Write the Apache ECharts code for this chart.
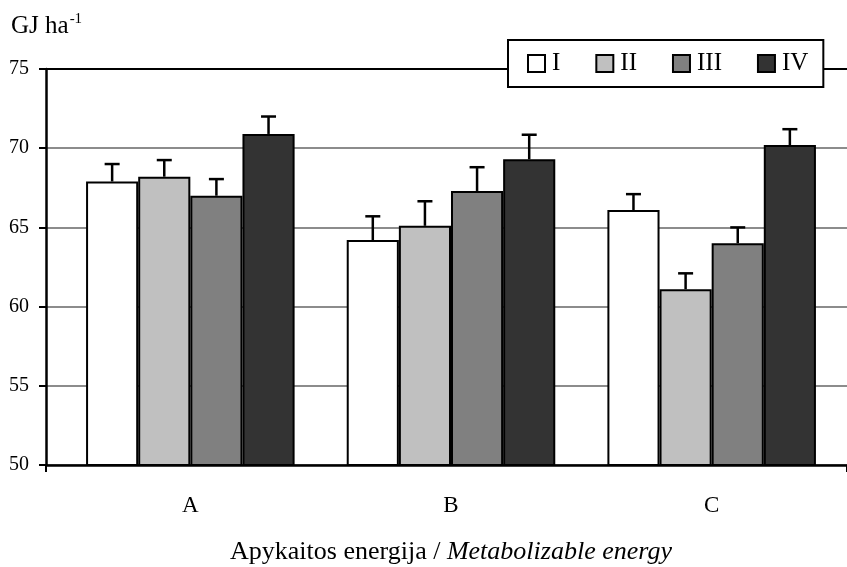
<!DOCTYPE html>
<html><head><meta charset="utf-8">
<script src="https://cdn.jsdelivr.net/npm/echarts@6/dist/echarts.min.js"></script>
<style>html,body{margin:0;padding:0;background:#fff}#c{width:847px;height:567px}</style>
</head><body><div id="c"></div>
<script>
const categories = ['A', 'B', 'C'];
const seriesNames = ['I', 'II', 'III', 'IV'];
const valuesI   = [67.9, 64.2, 66.1];
const valuesII  = [68.2, 65.1, 61.1];
const valuesIII = [67.0, 67.3, 64.0];
const valuesIV  = [70.9, 69.3, 70.2];
const errI   = [1.1, 1.5, 1.0];
const errII  = [1.05, 1.55, 1.0];
const errIII = [1.05, 1.5, 1.0];
const errIV  = [1.1, 1.55, 1.0];
const yTicks = [50, 55, 60, 65, 70, 75];

const allValues = [valuesI, valuesII, valuesIII, valuesIV];
const allErr = [errI, errII, errIII, errIV];
const colors = ['#ffffff', '#c0c0c0', '#808080', '#333333'];
const font = 'Liberation Serif';
const nSeries = seriesNames.length;
const catGapRatio = 0.2;

const chart = echarts.init(document.getElementById('c'));
const series = [];
allValues.forEach((vals, i) => {
  series.push({
    name: seriesNames[i], type: 'bar', xAxisIndex: 1, yAxisIndex: 1,
    data: vals, barGap: '0%', barCategoryGap: (catGapRatio * 100) + '%',
    itemStyle: { color: colors[i], borderColor: '#000', borderWidth: 2 },
    z: 3
  });
});
allValues.forEach((vals, i) => {
  series.push({
    type: 'custom', xAxisIndex: 1, yAxisIndex: 1, z: 4,
    data: vals.map((v, k) => [k, v, v + allErr[i][k]]),
    renderItem: function (params, api) {
      const band = api.size([1, 0])[0];
      const bw = band * (1 - catGapRatio) / nSeries;
      const off = (i - (nSeries - 1) / 2) * bw;
      const p0 = api.coord([api.value(0), api.value(1)]);
      const p1 = api.coord([api.value(0), api.value(2)]);
      const x = p0[0] + off;
      const cap = 7.5;
      const st = { stroke: '#000', lineWidth: 2.5 };
      return { type: 'group', children: [
        { type: 'line', shape: { x1: x, y1: p0[1], x2: x, y2: p1[1] }, style: st },
        { type: 'line', shape: { x1: x - cap, y1: p1[1], x2: x + cap, y2: p1[1] }, style: st }
      ]};
    }
  });
});
series.push({
  type: 'line', xAxisIndex: 0, yAxisIndex: 0, data: [], silent: true,
  markLine: { symbol: 'none', silent: true, label: { show: false },
    lineStyle: { color: '#000', width: 2, type: 'solid' },
    data: [{ yAxis: yTicks[yTicks.length - 1] }] }
});

chart.setOption({
  animation: false,
  backgroundColor: '#fff',
  grid: [
    { left: 46, right: 0, top: 69, bottom: 102, containLabel: false, outerBoundsMode: 'none' },
    { left: 60, right: 5, top: 69, bottom: 102, containLabel: false, outerBoundsMode: 'none' }
  ],
  legend: {
    data: seriesNames, left: 508, top: 40,
    orient: 'horizontal', itemWidth: 17, itemHeight: 17, itemGap: 35,
    icon: 'rect',
    padding: [11, 15, 11, 19], borderColor: '#000', borderWidth: 2,
    backgroundColor: '#fff', z: 10,
    textStyle: { fontFamily: font, fontSize: 25, color: '#000', padding: [0, 0, 0, 2] }
  },
  xAxis: [
    { type: 'value', gridIndex: 0, min: 0, max: 1, interval: 1,
      axisLine: { show: true, lineStyle: { color: '#000', width: 2.5 } },
      axisTick: { show: true, length: 7, lineStyle: { color: '#000', width: 2 } },
      axisLabel: { show: false }, splitLine: { show: false } },
    { type: 'category', gridIndex: 1, data: categories,
      axisLine: { show: false }, axisTick: { show: false },
      axisLabel: { fontFamily: font, fontSize: 23, color: '#000', margin: 29 },
      name: '{n|Apykaitos energija / }{i|Metabolizable energy}',
      nameLocation: 'middle', nameGap: 74,
      nameTextStyle: { rich: {
        n: { fontFamily: font, fontSize: 26, color: '#000' },
        i: { fontFamily: font, fontSize: 26, color: '#000', fontStyle: 'italic' } } } }
  ],
  yAxis: [
    { type: 'value', gridIndex: 0, min: yTicks[0], max: yTicks[yTicks.length - 1], interval: 5,
      axisLine: { show: true, lineStyle: { color: '#000', width: 2.5 } },
      axisTick: { show: true, length: 7, lineStyle: { color: '#000', width: 2 } },
      axisLabel: { fontFamily: font, fontSize: 20, color: '#000', margin: 17 },
      splitLine: { show: true, lineStyle: { color: '#8c8c8c', width: 2 } } },
    { type: 'value', gridIndex: 1, min: yTicks[0], max: yTicks[yTicks.length - 1], interval: 5,
      show: false, splitLine: { show: false } }
  ],
  graphic: [{
    type: 'text', left: 11, top: 12,
    style: { text: '{a|GJ ha}{s|-1}', rich: {
      a: { fontFamily: font, fontSize: 25, fill: '#000', verticalAlign: 'bottom' },
      s: { fontFamily: font, fontSize: 15, fill: '#000', verticalAlign: 'top', padding: [0, 0, 12, 1] } } }
  }],
  series: series
});
</script></body></html>
